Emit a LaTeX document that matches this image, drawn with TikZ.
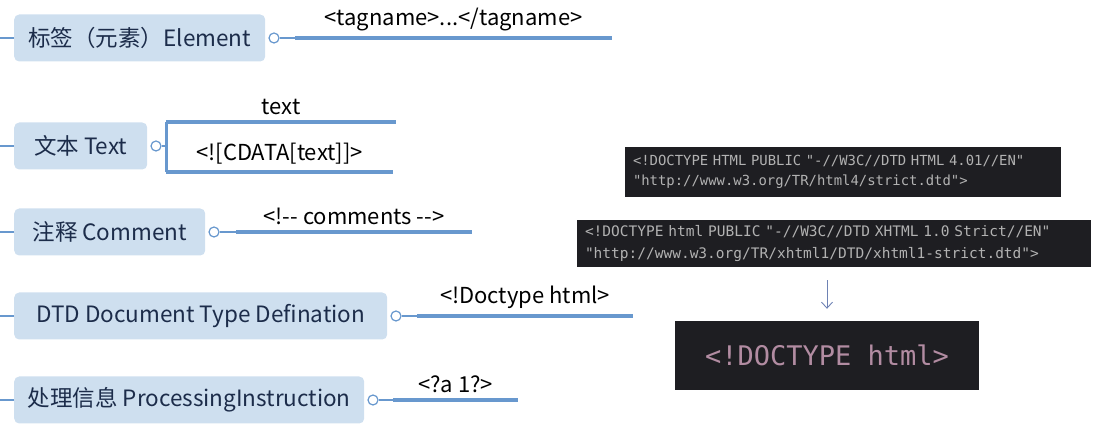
\documentclass[tikz,border=0pt]{standalone}
\usepackage{fontspec}
\setmainfont{Noto Sans CJK SC}
\setmonofont{DejaVu Sans Mono}
\usetikzlibrary{positioning, arrows.meta}
\definecolor{topicFill}{RGB}{206,223,239}
\definecolor{topicText}{RGB}{28,44,74}
\definecolor{lineBlue}{RGB}{104,152,206}
\definecolor{codeBg}{RGB}{30,30,34}
\definecolor{codeGray}{RGB}{178,178,178}
\definecolor{codePink}{RGB}{178,140,162}
\definecolor{arrowBlue}{RGB}{110,130,180}

\tikzset{
  topic/.style={fill=topicFill, text=topicText, rounded corners=5pt, minimum height=47pt,
    anchor=west, font=\fontsize{22.5}{26}\selectfont},
  knob/.style={circle, draw=lineBlue, fill=white, line width=1.2pt, minimum size=10pt, inner sep=0pt},
  branch/.style={lineBlue, line width=4pt},
  stub/.style={lineBlue, line width=1.5pt},
  tag/.style={midway, above=2pt, text=black, font=\fontsize{22}{26}\selectfont},
  codebox/.style={fill=codeBg, text=codeGray, align=left, inner xsep=8pt, minimum height=48pt}
}

\begin{document}
\begin{tikzpicture}[x=1pt, y=-1pt]
  \useasboundingbox (0,0) rectangle (1101,427);
  \node[topic, minimum width=251pt] (elem) at (14,38) {标签（元素）Element};
  \node[topic, minimum width=133pt] (text) at (14,146) {文本 Text};
  \node[topic, minimum width=191pt] (comment) at (14,232) {注释 Comment};
  \node[topic, minimum width=373pt] (dtd) at (14,316) {DTD Document Type Defination};
  \node[topic, minimum width=350pt] (pi) at (14,400) {处理信息 ProcessingInstruction};
  \foreach \n in {elem,text,comment,dtd,pi}
    \draw[stub] (\n.west) -- (\n.west -| 0,0);

  \node[knob, right=3pt of elem] (elemknob) {};
  \node[knob, right=3pt of text] (textknob) {};
  \node[knob, right=3pt of comment] (commentknob) {};
  \node[knob, right=3pt of dtd] (dtdknob) {};
  \node[knob, right=3pt of pi] (piknob) {};

  \coordinate (elemfrom) at ([xshift=21pt]elemknob.center);
  \coordinate (elemto) at (612,38);
  \draw[stub] (elemknob) -- (elemfrom);
  \draw[branch] (elemfrom) -- (elemto) node[tag] {<tagname>...</tagname>};

  \coordinate (texttop) at (166,122);
  \coordinate (textbot) at (166,172);
  \coordinate (texttopend) at (396,122);
  \coordinate (textbotend) at (393,172);
  \draw[stub] (textknob) -- (textknob -| texttop);
  \draw[lineBlue, line width=3pt] (texttop) -- (textbot);
  \draw[branch] (texttop) -- (texttopend) node[tag] {text};
  \draw[branch] (textbot) -- (textbotend) node[tag] {<![CDATA[text]]>};

  \coordinate (commentfrom) at ([xshift=22pt]commentknob.center);
  \coordinate (commentto) at (472,232);
  \draw[stub] (commentknob) -- (commentfrom);
  \draw[branch] (commentfrom) -- (commentto) node[tag] {<!-\kern0pt- comments -\kern0pt->};

  \coordinate (dtdfrom) at ([xshift=21pt]dtdknob.center);
  \coordinate (dtdto) at (633,316);
  \draw[stub] (dtdknob) -- (dtdfrom);
  \draw[branch] (dtdfrom) -- (dtdto) node[tag] {<!Doctype html>};

  \coordinate (pifrom) at ([xshift=20pt]piknob.center);
  \coordinate (pito) at (518,400);
  \draw[stub] (piknob) -- (pifrom);
  \draw[branch] (pifrom) -- (pito) node[tag] {<?a 1?>};

  \node[codebox, text width=420pt, minimum height=50pt, font=\ttfamily\fontsize{13.9}{20}\selectfont]
    (html4) at (843,172) {<!DOCTYPE HTML PUBLIC "-//W3C//DTD HTML 4.01//EN"\\"http://www.w3.org/TR/html4/strict.dtd">};
  \node[codebox, text width=498pt, minimum height=47pt, font=\ttfamily\fontsize{14.5}{22}\selectfont]
    (xhtml) at (834,243.5) {<!DOCTYPE html PUBLIC "-//W3C//DTD XHTML 1.0 Strict//EN"\\"http://www.w3.org/TR/xhtml1/DTD/xhtml1-strict.dtd">};
  \node[fill=codeBg, text=codePink, minimum width=304pt, minimum height=69pt,
    font=\ttfamily\fontsize{27}{30}\selectfont] (html5) at (827,355.5) {<!DOCTYPE html>};
  \draw[arrowBlue, line width=0.9pt, -{Straight Barb[length=6pt, width=11pt]}, shorten <=13pt, shorten >=12pt]
    (html5.north |- xhtml.south) -- (html5.north);
\end{tikzpicture}
\end{document}
